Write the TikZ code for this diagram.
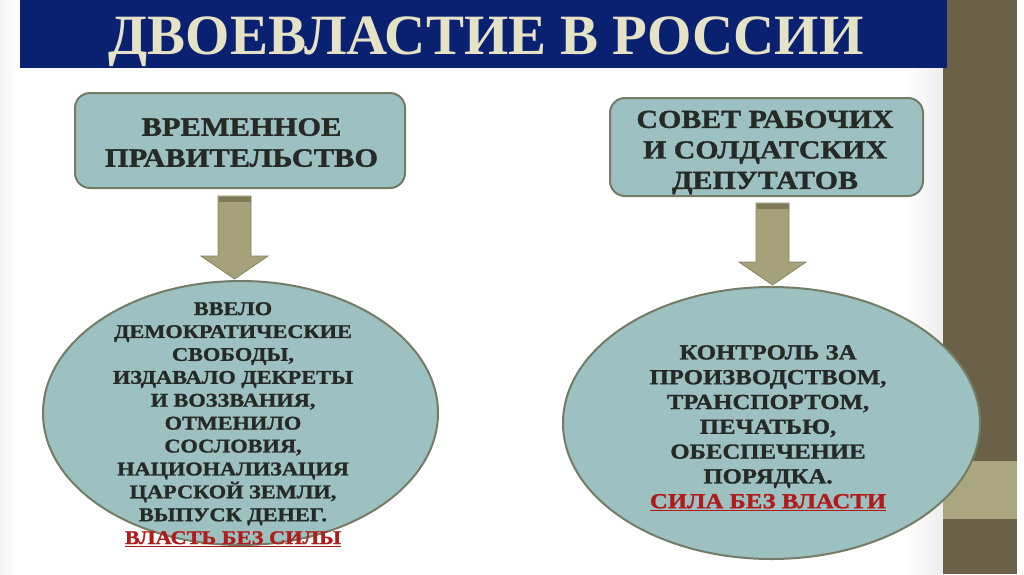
\documentclass[tikz,border=0pt]{standalone}
\usepackage{fontspec}
\setmainfont{Liberation Serif}
\newfontfamily\bodyfont{Liberation Serif}[FakeStretch=1.15, BoldFeatures={FakeBold=1.3}]
\newfontfamily\titlefont{Liberation Serif}
\usetikzlibrary{calc,shapes.geometric}
\definecolor{navy}{HTML}{0A2172}
\definecolor{stripc}{HTML}{6B6149}
\definecolor{bandc}{HTML}{AAA67F}
\definecolor{fillc}{HTML}{9DC0C1}
\definecolor{edgec}{HTML}{737C65}
\definecolor{ink}{HTML}{262A26}
\definecolor{redc}{HTML}{B01C1C}
\definecolor{titlec}{HTML}{E6E2C6}
\definecolor{arrowc}{HTML}{A5A27B}
\definecolor{arrowedge}{HTML}{86835F}
\definecolor{arrowtop}{HTML}{7E7A58}
\newcommand{\redul}[1]{\setbox0\hbox{#1}\rlap{\rule[-3pt]{\wd0}{1.3pt}}\box0}
\newcommand{\fatarrow}[2]{%
  \draw[arrowbody] let \p1=#1, \p2=#2 in
    (\x1-16.5,\y1) -- (\x1+16.5,\y1) -- (\x1+16.5,\y2+23) -- (\x1+33.5,\y2+23)
    -- (\x2,\y2) -- (\x1-33.5,\y2+23) -- (\x1-16.5,\y2+23) -- cycle;
  \fill[arrowtop] let \p1=#1 in (\x1-16,\y1-0.5) rectangle (\x1+16,\y1-6);
}
\tikzset{
  box/.style={draw=edgec, line width=2pt, fill=fillc, rounded corners=15pt, inner sep=0pt},
  oval/.style={ellipse, draw=edgec, line width=2pt, fill=fillc, inner sep=0pt},
  boxtext/.style={text=ink, align=center, inner sep=0pt},
  arrowbody/.style={fill=arrowc, draw=arrowedge, line width=0.8pt, line join=miter},
}
\begin{document}
\begin{tikzpicture}[x=1pt,y=-1pt]
\useasboundingbox (0,0) rectangle (1024,574);
\fill[white] (0,0) rectangle (1024,574);
\shade[left color=black!5, right color=white] (0,0) rectangle (14,574);
\shade[left color=white, right color=black!7] (905,68) rectangle (943,574);
\fill[stripc] (943,0) rectangle (1017,574);
\fill[bandc] (943,461) rectangle (1017,519);
\fill[navy] (20,0) rectangle (947,68);
\node[text=titlec, inner sep=0pt, anchor=base, font=\titlefont\bfseries\fontsize{57}{60}\selectfont] (title) at (486,54) {ДВОЕВЛАСТИЕ В РОССИИ};

\node[box, minimum width=330pt, minimum height=95pt] (gov) at (240,140.5) {};
\node[boxtext, anchor=north, font=\bodyfont\bfseries\fontsize{26.5}{31}\selectfont] (govt) at (241.5,118) {ВРЕМЕННОЕ\\ПРАВИТЕЛЬСТВО};

\node[box, minimum width=313pt, minimum height=98pt] (sov) at (766.5,147) {};
\node[boxtext, anchor=north, font=\bodyfont\bfseries\fontsize{26}{30.5}\selectfont] (sovt) at (765,110.5) {СОВЕТ РАБОЧИХ\\И СОЛДАТСКИХ\\ДЕПУТАТОВ};

\node[oval, minimum width=395pt, minimum height=264pt] (e1) at (240.5,413) {};
\node[boxtext, anchor=north, font=\bodyfont\bfseries\fontsize{19.4}{22.9}\selectfont] (e1t) at (233,302) {ВВЕЛО\\ДЕМОКРАТИЧЕСКИЕ\\СВОБОДЫ,\\ИЗДАВАЛО ДЕКРЕТЫ\\И ВОЗЗВАНИЯ,\\ОТМЕНИЛО\\СОСЛОВИЯ,\\НАЦИОНАЛИЗАЦИЯ\\ЦАРСКОЙ ЗЕМЛИ,\\ВЫПУСК ДЕНЕГ.\\\textcolor{redc}{\redul{ВЛАСТЬ БЕЗ СИЛЫ}}};

\node[oval, minimum width=417pt, minimum height=272pt] (e2) at (771.5,423) {};
\node[boxtext, anchor=north, font=\bodyfont\bfseries\fontsize{21.5}{24.8}\selectfont] (e2t) at (768,345) {КОНТРОЛЬ ЗА\\ПРОИЗВОДСТВОМ,\\ТРАНСПОРТОМ,\\ПЕЧАТЬЮ,\\ОБЕСПЕЧЕНИЕ\\ПОРЯДКА.\\\textcolor{redc}{\redul{СИЛА БЕЗ ВЛАСТИ}}};

\fatarrow{($(gov.south)+(-5.5,7)$)}{($(e1.north)+(-6,-1)$)}
\fatarrow{($(sov.south)+(6,6)$)}{($(e2.north)+(1,-1)$)}
\end{tikzpicture}
\end{document}
